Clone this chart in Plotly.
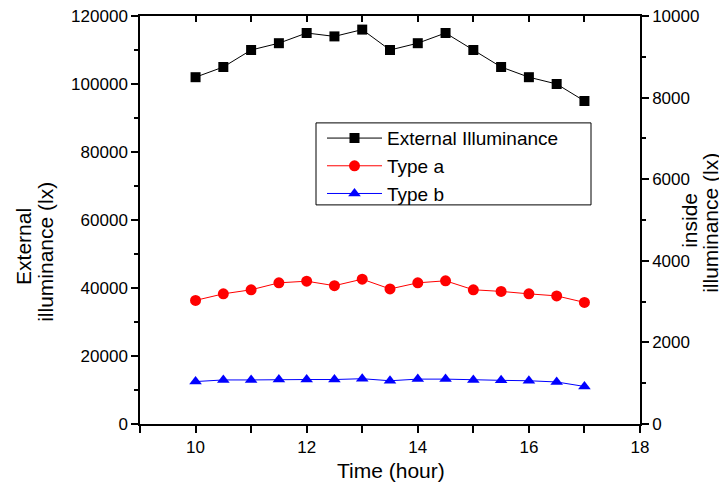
import plotly.graph_objects as go

hours = [10, 10.5, 11, 11.5, 12, 12.5, 13, 13.5, 14, 14.5, 15, 15.5, 16, 16.5, 17]
external = [102000, 105000, 110000, 112000, 115000, 114000, 116000, 110000,
            112000, 115000, 110000, 105000, 102000, 100000, 95000]
type_a = [3030, 3190, 3290, 3460, 3500, 3390, 3550, 3310,
          3460, 3510, 3290, 3250, 3190, 3140, 2980]
type_b = [1040, 1080, 1080, 1090, 1090, 1090, 1110, 1060,
          1100, 1100, 1080, 1070, 1060, 1030, 920]

x_tickvals = [10, 12, 14, 16, 18]
left_tickvals = [0, 20000, 40000, 60000, 80000, 100000, 120000]
right_tickvals = [0, 2000, 4000, 6000, 8000, 10000]

FONT = "Liberation Sans, Arial, sans-serif"

fig = go.Figure()
fig.add_trace(go.Scatter(x=hours, y=external, name="External Illuminance",
                         mode="lines+markers", yaxis="y", xaxis="x",
                         line=dict(color="black", width=1),
                         marker=dict(symbol="square", size=10, color="black")))
fig.add_trace(go.Scatter(x=hours, y=type_a, name="Type a",
                         mode="lines+markers", yaxis="y2", xaxis="x",
                         line=dict(color="#ff0000", width=1),
                         marker=dict(symbol="circle", size=11, color="#ff0000")))
fig.add_trace(go.Scatter(x=hours, y=type_b, name="Type b",
                         mode="lines+markers", yaxis="y2", xaxis="x",
                         line=dict(color="#0000ff", width=1),
                         marker=dict(symbol="triangle-up", size=11, color="#0000ff")))
# empty trace to activate the mirrored top axis
fig.add_trace(go.Scatter(x=[], y=[], xaxis="x2", yaxis="y", showlegend=False,
                         hoverinfo="skip"))

axis_common = dict(showline=True, linecolor="black", linewidth=1.5,
                   showgrid=False, zeroline=False, automargin=False,
                   ticklabeloverflow="allow",
                   tickfont=dict(family=FONT, size=17, color="black"),
                   tickcolor="black", tickwidth=1.5)

title_font = dict(family=FONT, size=21, color="black")


def vtitle(text, x, y):
    return dict(text=text, xref="paper", yref="paper", x=x, y=y,
                xanchor="center", yanchor="middle", textangle=-90,
                showarrow=False, font=title_font)


# page body has an 8px margin, so the figure is 8px smaller than the window
fig.update_layout(
    width=719, height=483,
    margin=dict(l=132, r=87, t=8, b=67, autoexpand=False),
    paper_bgcolor="white", plot_bgcolor="white",
    font=dict(family=FONT, color="black"),
    xaxis=dict(range=[9, 18], tickmode="array", tickvals=x_tickvals,
               ticks="outside", ticklen=7,
               minor=dict(dtick=1, tick0=9, ticks="outside", ticklen=7,
                          tickcolor="black", tickwidth=1.5),
               **axis_common),
    xaxis2=dict(range=[9, 18], overlaying="x", side="top", anchor="y",
                tickmode="linear", tick0=9, dtick=1, ticks="inside", ticklen=6,
                showticklabels=False, **axis_common),
    yaxis=dict(range=[0, 120000], tickmode="array", tickvals=left_tickvals,
               tickformat="d", ticks="outside", ticklen=7,
               minor=dict(dtick=10000, ticks="outside", ticklen=4,
                          tickcolor="black", tickwidth=1.5),
               **axis_common),
    yaxis2=dict(range=[0, 10000], overlaying="y", side="right", anchor="x",
                tickmode="array", tickvals=right_tickvals, tickformat="d",
                ticks="outside", ticklen=7,
                minor=dict(dtick=1000, ticks="outside", ticklen=4,
                           tickcolor="black", tickwidth=1.5),
                **axis_common),
    legend=dict(x=0.364, y=0.747, xanchor="left", yanchor="top",
                borderwidth=0, bgcolor="rgba(0,0,0,0)",
                font=dict(family=FONT, size=19, color="black"),
                itemwidth=55, tracegroupgap=0),
    showlegend=True,
    shapes=[
        # legend frame
        dict(type="rect", xref="paper", yref="paper",
             x0=0.352, x1=0.902, y0=0.537, y1=0.738,
             line=dict(color="black", width=1), fillcolor="white",
             layer="above"),
    ],
    annotations=[
        dict(text="Time (hour)", xref="paper", yref="paper", x=0.502, y=-0.113,
             xanchor="center", yanchor="middle", showarrow=False,
             font=title_font),
        vtitle("External", -0.232, 0.434),
        vtitle("illuminance (lx)", -0.188, 0.422),
        vtitle("inside", 1.100, 0.498),
        vtitle("illuminance (lx)", 1.142, 0.493),
    ],
)

fig.write_html("out.html")
